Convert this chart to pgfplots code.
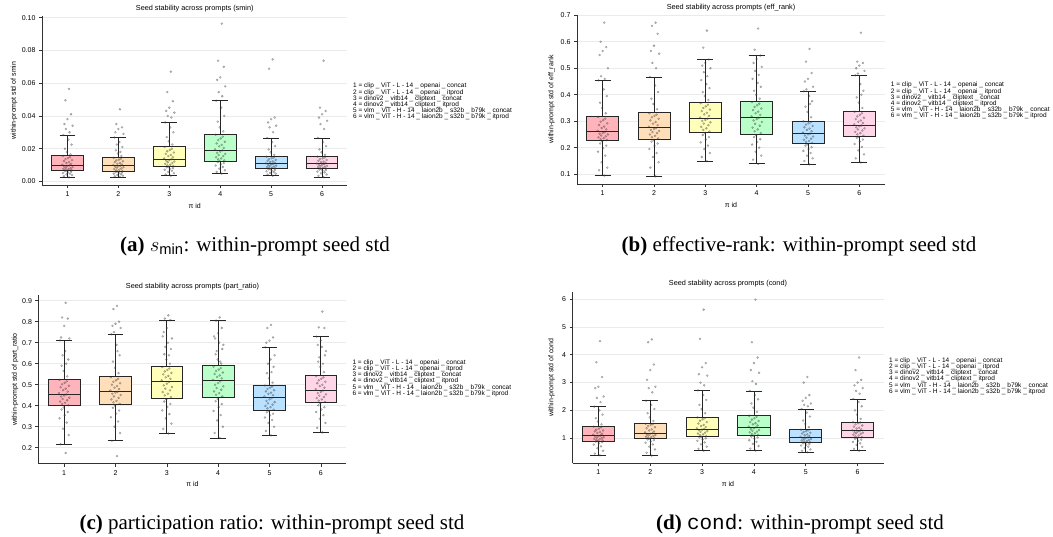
\documentclass[border=0pt]{standalone}
\usepackage{fontspec}
\setmainfont{Liberation Sans}
\newfontfamily\capserif{Liberation Serif}
\newfontfamily\capmono{Liberation Mono}
\usepackage{pgfplots}
\usepackage{pgfplotstable}
\pgfplotsset{compat=1.18}
\usepgfplotslibrary{statistics}

\definecolor{c1}{HTML}{FFB3BA}
\definecolor{c2}{HTML}{FFDFBA}
\definecolor{c3}{HTML}{FFFFBA}
\definecolor{c4}{HTML}{BAFFC9}
\definecolor{c5}{HTML}{BAE1FF}
\definecolor{c6}{HTML}{FFD6E8}

% ---- panel (a): smin ----
\pgfplotstableread[header=false]{
j 0.03 -0.07 0.09 -0.02 0.05 -0.09 0.01 0.07 -0.05 -0.01 0.08 -0.04 0.02 -0.08 0.06 -0.03 0.10 -0.06 0.00 0.04 -0.10 0.07 -0.02 0.03 -0.07 0.09 -0.04 0.01 0.05 -0.09 0.06 -0.01 -0.05 0.08 0.02 -0.08 0.04 -0.03 0.10 -0.06 0.00 0.07 -0.04 0.03
g1 .0025 .0032 .0038 .0043 .0047 .0051 .0055 .0059 .0062 .0065 .0068 .0071 .0074 .0077 .0080 .0084 .0087 .0091 .0094 .0098 .0102 .0107 .0112 .0118 .0124 .0130 .0136 .0142 .0148 .0155 .0165 .0180 .0200 .0225 .0255 .0283 .0300 .0320 .0340 .0350 .0380 .0410 .0495 .0565
g2 .0027 .0031 .0035 .0039 .0043 .0047 .0051 .0054 .0057 .0060 .0063 .0067 .0071 .0075 .0079 .0083 .0087 .0090 .0093 .0096 .0099 .0103 .0108 .0113 .0118 .0123 .0128 .0133 .0138 .0144 .0155 .0170 .0190 .0210 .0240 .0268 .0180 .0225 .0290 .0300 .0320 .0330 .0350 .0440
g3 .0035 .0042 .0050 .0058 .0065 .0071 .0076 .0081 .0086 .0090 .0094 .0098 .0102 .0107 .0112 .0117 .0122 .0127 .0131 .0135 .0140 .0147 .0154 .0161 .0168 .0176 .0184 .0192 .0200 .0210 .0225 .0245 .0270 .0300 .0330 .0360 .0390 .0400 .0420 .0430 .0450 .0490 .0545 .0670
g4 .0047 .0058 .0068 .0078 .0088 .0097 .0105 .0112 .0118 .0123 .0128 .0134 .0140 .0147 .0154 .0161 .0168 .0175 .0182 .0189 .0196 .0205 .0214 .0223 .0232 .0242 .0252 .0262 .0273 .0285 .0305 .0330 .0365 .0400 .0450 .0493 .0520 .0545 .0580 .0620 .0635 .0700 .0737 .0963
g5 .0035 .0041 .0047 .0052 .0057 .0061 .0065 .0069 .0073 .0076 .0079 .0082 .0085 .0088 .0091 .0094 .0097 .0100 .0103 .0106 .0110 .0114 .0118 .0122 .0126 .0131 .0136 .0141 .0146 .0151 .0162 .0178 .0195 .0215 .0240 .0265 .0300 .0330 .0340 .0360 .0380 .0390 .0688 .0745
g6 .0026 .0034 .0042 .0049 .0055 .0060 .0064 .0068 .0072 .0075 .0078 .0081 .0084 .0087 .0090 .0093 .0096 .0099 .0102 .0105 .0109 .0113 .0117 .0121 .0126 .0131 .0136 .0141 .0146 .0151 .0162 .0178 .0195 .0215 .0240 .0265 .0320 .0350 .0370 .0390 .0410 .0430 .0450 .0737
}\rawA
\pgfplotstabletranspose[colnames from=0]{\tabA}{\rawA}

% ---- panel (b): eff_rank ----
\pgfplotstableread[header=false]{
j 0.03 -0.07 0.09 -0.02 0.05 -0.09 0.01 0.07 -0.05 -0.01 0.08 -0.04 0.02 -0.08 0.06 -0.03 0.10 -0.06 0.00 0.04 -0.10 0.07 -0.02 0.03 -0.07 0.09 -0.04 0.01 0.05 -0.09 0.06 -0.01 -0.05 0.08 0.02 -0.08 0.04 -0.03 0.10 -0.06 0.00 0.07 -0.04 0.03
g1 .095 .115 .125 .145 .170 .185 .198 .208 .216 .223 .229 .232 .236 .239 .243 .246 .250 .253 .256 .259 .264 .269 .274 .280 .286 .292 .298 .304 .310 .316 .330 .350 .370 .395 .420 .454 .460 .470 .500 .550 .565 .580 .600 .672
g2 .092 .125 .145 .165 .180 .195 .207 .216 .223 .229 .235 .240 .245 .250 .255 .259 .263 .267 .271 .274 .279 .285 .291 .297 .303 .309 .315 .320 .325 .330 .345 .365 .385 .410 .435 .467 .500 .520 .555 .565 .585 .630 .660 .672
g3 .149 .165 .180 .195 .208 .220 .231 .240 .248 .255 .261 .267 .273 .279 .285 .291 .296 .301 .305 .309 .314 .320 .326 .332 .338 .344 .350 .356 .362 .368 .380 .395 .410 .425 .440 .455 .470 .485 .500 .510 .520 .533 .578 .642
g4 .139 .155 .170 .185 .200 .212 .222 .232 .240 .247 .255 .262 .269 .276 .283 .290 .297 .303 .308 .313 .318 .324 .330 .336 .342 .348 .354 .360 .366 .372 .385 .400 .415 .430 .445 .460 .475 .490 .505 .520 .535 .548 .570 .650
g5 .137 .150 .160 .170 .180 .188 .195 .202 .208 .213 .218 .222 .226 .230 .234 .238 .242 .246 .250 .253 .257 .262 .267 .272 .277 .282 .287 .292 .296 .300 .315 .335 .355 .375 .395 .413 .365 .420 .430 .450 .460 .482 .525 .573
g6 .144 .160 .175 .190 .203 .214 .223 .231 .237 .241 .245 .250 .255 .260 .265 .269 .273 .277 .281 .284 .288 .293 .298 .303 .308 .313 .318 .324 .330 .336 .350 .370 .390 .415 .440 .473 .400 .480 .490 .500 .510 .520 .525 .634
}\rawB
\pgfplotstabletranspose[colnames from=0]{\tabB}{\rawB}

% ---- panel (c): part_ratio ----
\pgfplotstableread[header=false]{
j 0.03 -0.07 0.09 -0.02 0.05 -0.09 0.01 0.07 -0.05 -0.01 0.08 -0.04 0.02 -0.08 0.06 -0.03 0.10 -0.06 0.00 0.04 -0.10 0.07 -0.02 0.03 -0.07 0.09 -0.04 0.01 0.05 -0.09 0.06 -0.01 -0.05 0.08 0.02 -0.08 0.04 -0.03 0.10 -0.06 0.00 0.07 -0.04 0.03
g1 .175 .217 .260 .290 .320 .340 .355 .370 .382 .392 .402 .408 .414 .420 .426 .432 .438 .444 .449 .454 .460 .467 .474 .481 .488 .495 .502 .509 .516 .523 .540 .565 .590 .620 .660 .711 .600 .640 .720 .725 .780 .815 .820 .890
g2 .160 .233 .270 .300 .325 .345 .362 .377 .390 .400 .409 .416 .423 .430 .437 .444 .451 .457 .462 .466 .472 .479 .486 .493 .500 .507 .514 .521 .528 .536 .555 .580 .610 .640 .690 .740 .660 .750 .770 .780 .790 .800 .860 .875
g3 .268 .290 .315 .340 .360 .378 .394 .408 .420 .430 .441 .449 .457 .465 .473 .481 .489 .497 .505 .513 .521 .528 .535 .542 .549 .556 .563 .570 .577 .584 .600 .620 .645 .670 .700 .730 .640 .680 .720 .750 .770 .808 .815 .830
g4 .246 .270 .300 .330 .355 .375 .393 .408 .421 .432 .444 .452 .460 .468 .476 .484 .492 .500 .508 .516 .523 .530 .537 .544 .551 .558 .565 .572 .579 .586 .600 .620 .645 .670 .700 .730 .610 .660 .690 .720 .745 .770 .805 .820
g5 .259 .280 .300 .318 .332 .344 .354 .362 .369 .375 .381 .387 .393 .399 .405 .411 .417 .423 .430 .436 .444 .450 .456 .462 .468 .474 .480 .486 .491 .496 .510 .530 .555 .585 .620 .678 .560 .600 .640 .700 .710 .725 .770 .785
g6 .273 .295 .318 .338 .355 .370 .382 .393 .402 .410 .418 .424 .430 .436 .442 .448 .454 .460 .466 .472 .479 .486 .493 .500 .507 .514 .521 .528 .535 .541 .560 .585 .610 .640 .680 .729 .600 .630 .660 .690 .710 .770 .773 .848
}\rawC
\pgfplotstabletranspose[colnames from=0]{\tabC}{\rawC}

% ---- panel (d): cond ----
\pgfplotstableread[header=false]{
j 0.03 -0.07 0.09 -0.02 0.05 -0.09 0.01 0.07 -0.05 -0.01 0.08 -0.04 0.02 -0.08 0.06 -0.03 0.10 -0.06 0.00 0.04 -0.10 0.07 -0.02 0.03 -0.07 0.09 -0.04 0.01 0.05 -0.09 0.06 -0.01 -0.05 0.08 0.02 -0.08 0.04 -0.03 0.10 -0.06 0.00 0.07 -0.04 0.03
g1 .39 .45 .55 .64 .71 .77 .82 .86 .88 .90 .92 .94 .96 .98 1.00 1.02 1.04 1.06 1.08 1.10 1.13 1.16 1.19 1.22 1.25 1.28 1.31 1.35 1.39 1.42 1.50 1.60 1.72 1.85 2.00 2.136 2.30 2.45 2.50 2.80 2.85 3.20 3.73 4.49
g2 .378 .48 .60 .70 .78 .84 .89 .93 .96 .98 1.00 1.02 1.04 1.06 1.08 1.10 1.12 1.14 1.16 1.18 1.21 1.24 1.28 1.32 1.36 1.40 1.44 1.48 1.51 1.52 1.62 1.75 1.90 2.05 2.20 2.35 2.65 2.80 2.85 3.10 3.45 3.65 4.45 4.55
g3 .557 .62 .70 .78 .85 .91 .96 1.00 1.03 1.05 1.08 1.11 1.14 1.17 1.20 1.23 1.26 1.29 1.31 1.33 1.36 1.40 1.44 1.48 1.53 1.58 1.63 1.68 1.72 1.75 1.90 2.05 2.20 2.38 2.55 2.72 2.90 3.00 3.25 3.30 3.55 3.70 4.57 5.62
g4 .557 .63 .72 .80 .87 .93 .98 1.03 1.06 1.09 1.12 1.15 1.18 1.21 1.24 1.27 1.30 1.33 1.36 1.39 1.42 1.46 1.50 1.54 1.58 1.62 1.67 1.72 1.77 1.81 1.95 2.10 2.25 2.40 2.55 2.70 2.95 3.05 3.35 3.45 3.70 3.90 4.45 5.98
g5 .498 .55 .60 .65 .70 .74 .77 .80 .82 .84 .86 .88 .90 .92 .94 .96 .98 1.00 1.02 1.03 1.05 1.08 1.11 1.14 1.17 1.20 1.23 1.26 1.29 1.31 1.40 1.52 1.64 1.78 1.92 2.05 2.15 2.20 2.25 2.35 2.45 2.55 3.00 3.20
g6 .556 .62 .69 .76 .82 .87 .91 .95 .98 1.01 1.04 1.07 1.10 1.13 1.16 1.18 1.20 1.22 1.24 1.26 1.29 1.32 1.35 1.38 1.42 1.46 1.50 1.54 1.57 1.58 1.70 1.85 2.00 2.15 2.30 2.41 2.60 2.70 2.80 2.90 3.00 3.10 3.45 3.90
}\rawD
\pgfplotstabletranspose[colnames from=0]{\tabD}{\rawD}

\newcommand\bx[7]{\addplot[boxplot prepared={draw direction=y,draw position=#1,lower whisker=#2,lower quartile=#3,median=#4,upper quartile=#5,upper whisker=#6,box extend=0.62,whisker extend=0.31}, draw=black!85, line width=0.75pt, fill=#7] coordinates {};}
\newcommand\pts[3]{\addplot[only marks, mark=*, mark size=1pt, mark options={draw=none, fill=black!50, opacity=0.33}] table[x expr=\thisrow{j}+#1, y=#2] {#3};}

\pgfplotsset{common/.style={
  scale only axis, anchor=south west,
  xmin=0.5, xmax=6.5, xtick={1,2,3,4,5,6},
  axis x line*=bottom, axis y line*=left,
  axis line style={-, black!80, line width=0.8pt},
  tick align=outside, major tick length=3pt,
  tick style={black!80, line width=0.6pt},
  ymajorgrids, major grid style={black!8, line width=0.6pt},
  tick label style={font=\fontsize{7}{8}\selectfont},
  /pgf/number format/assume math mode=true,
  scaled y ticks=false,
  label style={font=\fontsize{7}{8}\selectfont},
  every axis title shift=0pt,
  title style={font=\fontsize{7.3}{8.5}\selectfont, anchor=center},
  xlabel={π id},
}}
\tikzset{leg/.style={anchor=north west, align=left, inner sep=0pt, font=\fontsize{6.5}{6.2}\selectfont},
  captxt/.style={font=\capserif\fontsize{21}{24}\selectfont, inner sep=0pt}}
\newcommand\legtext{1 = clip \_ ViT - L - 14 \_ openai \_ concat\\
2 = clip \_ ViT - L - 14 \_ openai \_ itprod\\
3 = dinov2 \_ vitb14 \_ cliptext \_ concat\\
4 = dinov2 \_ vitb14 \_ cliptext \_ itprod\\
5 = vlm \_ ViT - H - 14 \_ laion2b \_ s32b \_ b79k \_ concat\\
6 = vlm \_ ViT - H - 14 \_ laion2b \_ s32b \_ b79k \_ itprod}

\begin{document}
\begin{tikzpicture}
\useasboundingbox (0,0) rectangle (1053pt,-537pt);

% (a)
\begin{axis}[common, at={(42pt,-185pt)}, width=305.5pt, height=169pt,
  ymin=-0.0022, ymax=0.101, ytick={0,0.02,0.04,0.06,0.08,0.1},
  yticklabel style={/pgf/number format/.cd, fixed, fixed zerofill, precision=2},
  title={Seed stability across prompts (smin)},
  title style={at={(axis description cs:0.5,1.043)}},
  ylabel={within-prompt std of smin},
  ylabel style={at={(axis description cs:-0.0917,0.5)}, anchor=center},
  xlabel style={at={(axis description cs:0.5,-0.1213)}, anchor=center}]
\bx{1}{.0025}{.0067}{.0100}{.0157}{.0283}{c1}
\bx{2}{.0027}{.0061}{.0097}{.0145}{.0268}{c2}
\bx{3}{.0035}{.0092}{.0136}{.0212}{.0360}{c3}
\bx{4}{.0047}{.0125}{.0192}{.0288}{.0493}{c4}
\bx{5}{.0035}{.0078}{.0108}{.0153}{.0265}{c5}
\bx{6}{.0026}{.0077}{.0107}{.0153}{.0265}{c6}
\pts{1}{g1}{\tabA}\pts{2}{g2}{\tabA}\pts{3}{g3}{\tabA}
\pts{4}{g4}{\tabA}\pts{5}{g5}{\tabA}\pts{6}{g6}{\tabA}
\end{axis}

% (b)
\begin{axis}[common, at={(577pt,-184pt)}, width=308pt, height=169pt,
  ymin=0.063, ymax=0.701, ytick={0.1,0.2,0.3,0.4,0.5,0.6,0.7},
  yticklabel style={/pgf/number format/.cd, fixed, fixed zerofill, precision=1},
  title={Seed stability across prompts (eff\_rank)},
  title style={at={(axis description cs:0.5,1.043)}},
  ylabel={within-prompt std of eff\_rank},
  ylabel style={at={(axis description cs:-0.0828,0.5)}, anchor=center},
  xlabel style={at={(axis description cs:0.5,-0.1213)}, anchor=center}]
\bx{1}{.095}{.227}{.261}{.318}{.454}{c1}
\bx{2}{.092}{.232}{.276}{.332}{.467}{c2}
\bx{3}{.149}{.258}{.311}{.370}{.533}{c3}
\bx{4}{.139}{.252}{.315}{.374}{.548}{c4}
\bx{5}{.137}{.215}{.255}{.301}{.413}{c5}
\bx{6}{.144}{.242}{.285}{.337}{.473}{c6}
\pts{1}{g1}{\tabB}\pts{2}{g2}{\tabB}\pts{3}{g3}{\tabB}
\pts{4}{g4}{\tabB}\pts{5}{g5}{\tabB}\pts{6}{g6}{\tabB}
\end{axis}

% (c)
\begin{axis}[common, at={(38.5pt,-463.8pt)}, width=308pt, height=168.7pt,
  ymin=0.1235, ymax=0.9265, ytick={0.2,0.3,0.4,0.5,0.6,0.7,0.8,0.9},
  yticklabel style={/pgf/number format/.cd, fixed, fixed zerofill, precision=1},
  title={Seed stability across prompts (part\_ratio)},
  title style={at={(axis description cs:0.5,1.05)}},
  ylabel={within-prompt std of part\_ratio},
  ylabel style={at={(axis description cs:-0.0763,0.5)}, anchor=center},
  xlabel style={at={(axis description cs:0.5,-0.1213)}, anchor=center}]
\bx{1}{.217}{.400}{.456}{.525}{.711}{c1}
\bx{2}{.233}{.406}{.467}{.541}{.740}{c2}
\bx{3}{.268}{.437}{.517}{.587}{.808}{c3}
\bx{4}{.246}{.440}{.519}{.590}{.805}{c4}
\bx{5}{.259}{.378}{.440}{.498}{.678}{c5}
\bx{6}{.273}{.414}{.475}{.543}{.729}{c6}
\pts{1}{g1}{\tabC}\pts{2}{g2}{\tabC}\pts{3}{g3}{\tabC}
\pts{4}{g4}{\tabC}\pts{5}{g5}{\tabC}\pts{6}{g6}{\tabC}
\end{axis}

% (d)
\begin{axis}[common, at={(572.5pt,-463.4pt)}, width=311pt, height=171.6pt,
  ymin=0.098, ymax=6.26, ytick={1,2,3,4,5,6},
  title={Seed stability across prompts (cond)},
  title style={at={(axis description cs:0.5,1.045)}},
  ylabel={within-prompt std of cond},
  ylabel style={at={(axis description cs:-0.0675,0.5)}, anchor=center},
  xlabel style={at={(axis description cs:0.5,-0.1195)}, anchor=center}]
\bx{1}{.39}{.904}{1.108}{1.43}{2.136}{c1}
\bx{2}{.378}{.99}{1.18}{1.526}{2.35}{c2}
\bx{3}{.557}{1.06}{1.335}{1.754}{2.72}{c3}
\bx{4}{.557}{1.096}{1.395}{1.81}{2.70}{c4}
\bx{5}{.498}{.845}{1.036}{1.31}{2.05}{c5}
\bx{6}{.556}{1.02}{1.27}{1.573}{2.41}{c6}
\pts{1}{g1}{\tabD}\pts{2}{g2}{\tabD}\pts{3}{g3}{\tabD}
\pts{4}{g4}{\tabD}\pts{5}{g5}{\tabD}\pts{6}{g6}{\tabD}
\end{axis}

\node[leg] at (353pt,-83pt) {\legtext};
\node[leg] at (890.7pt,-82pt) {\legtext};
\node[leg] at (352.3pt,-359.3pt) {\legtext};
\node[leg] at (889pt,-357.3pt) {\legtext};

\node[captxt] at (255pt,-246pt) {\textbf{(a)} $s_{\min}$: within-prompt seed std};
\node[captxt] at (799pt,-246pt) {\textbf{(b)} effective-rank: within-prompt seed std};
\node[captxt] at (272pt,-524pt) {\textbf{(c)} participation ratio: within-prompt seed std};
\node[captxt] at (800pt,-524pt) {\textbf{(d)} {\capmono cond}: within-prompt seed std};
\end{tikzpicture}
\end{document}
